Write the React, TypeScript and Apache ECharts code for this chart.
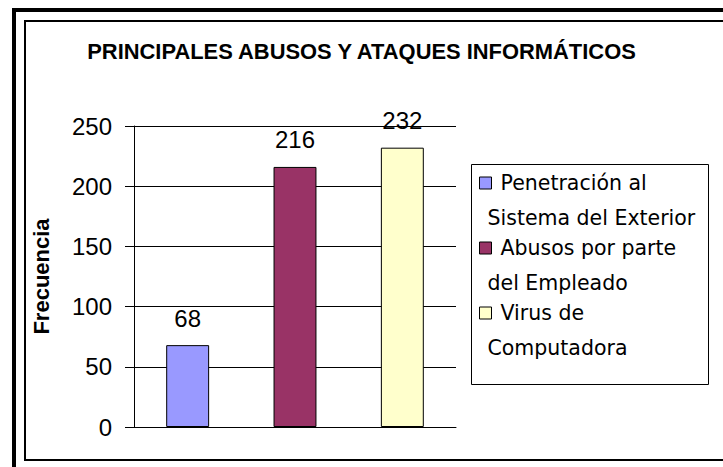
import React, { useEffect, useRef } from 'react';
import * as echarts from 'echarts';

const categories = [
  'Penetración al Sistema del Exterior',
  'Abusos por parte del Empleado',
  'Virus de Computadora',
];
const legendLine1 = ['Penetración al', 'Abusos por parte', 'Virus de'];
const legendLine2 = ['Sistema del Exterior', 'del Empleado', 'Computadora'];
const values = [68, 216, 232];
const colors = ['#9999FF', '#993366', '#FFFFCC'];
const yMin = 0;
const yMax = 250;
const yInterval = 50;
const titleText = 'PRINCIPALES ABUSOS Y ATAQUES INFORMÁTICOS';
const yAxisName = 'Frecuencia';

const NUM_FONT = '"Liberation Sans", Arial, sans-serif';
const LEG_FONT = '"DejaVu Sans", sans-serif';

export default function App() {
  const ref = useRef<HTMLDivElement>(null);

  useEffect(() => {
    if (!ref.current) return;
    const chart = echarts.init(ref.current, undefined, { renderer: 'svg' });
    const option: any = {
      animation: false,
      backgroundColor: '#ffffff',
      title: {
        text: titleText,
        left: 'center',
        top: 34,
        textStyle: {
          fontFamily: NUM_FONT,
          fontWeight: 'bold',
          fontSize: 21.9,
          lineHeight: 24,
          color: '#000',
        },
      },
      grid: { left: 134, right: 267, top: 126, bottom: 40, containLabel: false },
      xAxis: {
        type: 'category',
        data: categories,
        axisLine: { show: true, lineStyle: { color: '#000', width: 1 } },
        axisTick: { show: false },
        axisLabel: { show: false },
        splitLine: { show: false },
      },
      yAxis: {
        type: 'value',
        min: yMin,
        max: yMax,
        interval: yInterval,
        name: yAxisName,
        nameLocation: 'middle',
        nameRotate: 90,
        nameGap: 82,
        nameTextStyle: {
          fontFamily: NUM_FONT,
          fontWeight: 'bold',
          fontSize: 22,
          color: '#000',
        },
        axisLine: { show: true, lineStyle: { color: '#000', width: 1 } },
        axisTick: { show: true, inside: false, length: 9, lineStyle: { color: '#000', width: 1 } },
        axisLabel: { margin: 22, fontFamily: NUM_FONT, fontSize: 24, color: '#000' },
        splitLine: { show: true, lineStyle: { color: '#000', width: 1 } },
      },
      legend: {
        orient: 'vertical',
        left: 479,
        top: 130.5,
        padding: 0,
        itemGap: -40,
        itemWidth: 12,
        itemHeight: 12,
        icon: 'rect',
        data: categories,
        formatter: (name: string) => {
          const i = categories.indexOf(name);
          return '\n\u00a0\u00a0' + legendLine1[i] + '\n' + legendLine2[i];
        },
        textStyle: {
          fontFamily: LEG_FONT,
          fontSize: 20.5,
          lineHeight: 35,
          color: '#000',
          padding: [0, 0, 0, -9],
        },
        itemStyle: { borderColor: '#000', borderWidth: 1 },
        selectedMode: false,
      },
      graphic: [
        {
          type: 'rect',
          shape: { x: 471.5, y: 164.5, width: 237, height: 220 },
          style: { fill: 'none', stroke: '#000', lineWidth: 1 },
          silent: true,
          z: 10,
        },
        {
          type: 'rect',
          shape: { x: 14, y: 10, width: 760, height: 500 },
          style: { fill: 'none', stroke: '#000', lineWidth: 4 },
          silent: true,
          z: 10,
        },
        {
          type: 'rect',
          shape: { x: 25, y: 21, width: 760, height: 439 },
          style: { fill: 'none', stroke: '#000', lineWidth: 2 },
          silent: true,
          z: 10,
        },
      ],
      series: categories.map((name, i) => ({
        name,
        type: 'bar',
        stack: 'all',
        barWidth: '40%',
        data: categories.map((_, j) => (j === i ? values[i] : null)),
        itemStyle: { color: colors[i], borderColor: '#000', borderWidth: 1 },
        label: {
          show: true,
          position: 'top',
          distance: 15,
          fontFamily: NUM_FONT,
          fontSize: 24,
          color: '#000',
        },
      })),
    };
    chart.setOption(option);
    return () => chart.dispose();
  }, []);

  return (
    <div
      ref={ref}
      style={{ position: 'fixed', left: 0, top: 0, width: 723, height: 467, background: '#fff' }}
    />
  );
}
